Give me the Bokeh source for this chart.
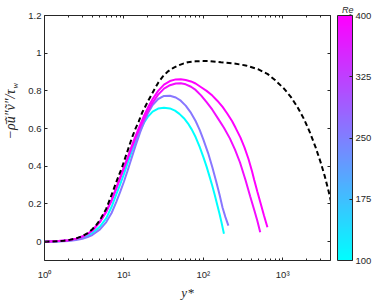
import numpy as np
from bokeh.plotting import figure
from bokeh.models import (LinearAxis, LogAxis, FixedTicker, CustomJSTickFormatter, ColorBar,
                          LinearColorMapper, Label, Range1d, ColumnDataSource,
                          CustomLabelingPolicy)
from bokeh.transform import linear_cmap
from bokeh.embed import file_html
from bokeh.resources import INLINE

# ---------------- data ----------------
re_tau = [100, 260, 385, 400]

ys_re100 = [1, 1.5, 2, 2.5, 3, 3.5, 4, 5, 6, 7, 8, 9, 10, 11, 12, 13, 14, 16, 18, 20, 23, 27, 32, 38, 44, 50,
            57, 64, 72, 80, 90, 100, 110, 120, 130, 140, 150, 160, 170, 182]
uv_re100 = [0.0, 0.002, 0.006, 0.012, 0.02, 0.031, 0.045, 0.08, 0.125, 0.185, 0.25, 0.305, 0.358, 0.41, 0.455,
            0.495, 0.53, 0.59, 0.632, 0.662, 0.69, 0.706, 0.711, 0.707, 0.695, 0.678, 0.655, 0.628, 0.593, 0.555,
            0.503, 0.45, 0.398, 0.345, 0.295, 0.245, 0.195, 0.148, 0.1, 0.042]

ys_re260 = [1, 1.5, 2, 2.5, 3, 3.5, 4, 5, 6, 7, 8, 9, 10, 11, 12, 13, 14, 16, 18, 20, 23, 27, 32, 38, 45, 52,
            60, 70, 80, 90, 100, 115, 130, 145, 160, 175, 190, 207]
uv_re260 = [0.0, 0.001, 0.004, 0.009, 0.015, 0.024, 0.035, 0.065, 0.104, 0.152, 0.21, 0.265, 0.318, 0.37, 0.42,
            0.466, 0.508, 0.58, 0.635, 0.68, 0.725, 0.757, 0.773, 0.774, 0.765, 0.748, 0.722, 0.683, 0.64, 0.593,
            0.543, 0.47, 0.395, 0.32, 0.25, 0.18, 0.13, 0.085]

ys_re385 = [1, 1.5, 2, 2.5, 3, 3.5, 4, 5, 6, 7, 8, 9, 10, 11, 12, 13, 14, 16, 18, 20, 23, 27, 32, 38, 45, 52,
            60, 70, 80, 93.6, 110, 130, 155, 182, 216, 250, 290, 340, 390, 440, 480, 521]
uv_re385 = [0.0, 0.003, 0.008, 0.016, 0.027, 0.041, 0.058, 0.104, 0.158, 0.217, 0.28, 0.337, 0.388, 0.434, 0.476,
            0.514, 0.548, 0.606, 0.653, 0.692, 0.738, 0.78, 0.812, 0.83, 0.839, 0.84, 0.835, 0.822, 0.805, 0.776,
            0.74, 0.7, 0.65, 0.604, 0.548, 0.49, 0.42, 0.327, 0.24, 0.165, 0.11, 0.05]

ys_re400 = [1, 1.5, 2, 2.5, 3, 3.5, 4, 5, 6, 7, 8, 9, 10, 11, 12, 13, 14, 16, 18, 20, 23, 27, 32, 38, 45, 52,
            60, 70, 80, 95, 110, 130, 150, 175, 200, 230, 255, 294, 330, 370, 410, 438, 480, 530, 580, 642]
uv_re400 = [0.0, 0.003, 0.008, 0.016, 0.027, 0.042, 0.06, 0.107, 0.162, 0.222, 0.285, 0.343, 0.395, 0.44, 0.485,
            0.525, 0.56, 0.62, 0.67, 0.71, 0.757, 0.8, 0.833, 0.852, 0.861, 0.862, 0.858, 0.85, 0.839, 0.818,
            0.8, 0.775, 0.748, 0.715, 0.68, 0.64, 0.604, 0.552, 0.5, 0.44, 0.375, 0.327, 0.265, 0.2, 0.14, 0.076]

ys_ref = [1, 1.25, 1.5, 1.75, 2, 2.5, 3, 3.5, 4, 4.5, 5, 6, 7.13, 8, 9.5, 11.5, 12.6, 14, 15.3, 17, 20.4, 24,
          27.2, 31, 36, 42, 48, 56, 64, 80, 100, 120, 167, 240, 342, 488, 649, 807, 1044, 1265, 1531, 1848,
          2200, 2600, 3000, 3400, 3800, 4200]
uv_ref = [0.0, 0.001, 0.003, 0.005, 0.008, 0.017, 0.03, 0.045, 0.066, 0.089, 0.115, 0.175, 0.257, 0.315, 0.396,
          0.5, 0.55, 0.6, 0.635, 0.685, 0.75, 0.805, 0.845, 0.877, 0.904, 0.922, 0.934, 0.945, 0.952, 0.957,
          0.958, 0.958, 0.952, 0.946, 0.935, 0.915, 0.889, 0.856, 0.811, 0.768, 0.715, 0.652, 0.58, 0.5, 0.422,
          0.345, 0.265, 0.185]

x_major = [1, 10, 100, 1000]
y_major = [0, 0.2, 0.4, 0.6, 0.8, 1.0, 1.2]
cb_ticks = [100, 175, 250, 325, 400]

# ---------------- styling ----------------
AX = "#262626"
SANS = "Liberation Sans"
SERIF = "Liberation Serif"
cool = ['#%02x%02xff' % (i, 255 - i) for i in range(256)]
x_minor = [m * 10 ** k for k in range(4) for m in range(2, 10) if m * 10 ** k <= 4000]

p = figure(width=374, height=302, x_axis_type="log",
           x_range=Range1d(1, 4000), y_range=Range1d(-0.1, 1.2),
           output_backend="svg", toolbar_location=None,
           min_border_left=41, min_border_top=15, min_border_bottom=37, min_border_right=43)
p.outline_line_color = None
p.grid.visible = False
p.background_fill_color = "white"

src = ColumnDataSource(dict(
    xs=[ys_re100, ys_re260, ys_re385, ys_re400],
    ys=[uv_re100, uv_re260, uv_re385, uv_re400],
    re=re_tau))
p.multi_line("xs", "ys", source=src, line_width=2,
             line_color=linear_cmap("re", cool, 100, 400))
p.line(ys_ref, uv_ref, line_color="black", line_width=2, line_dash="5 3")

xfmt = CustomJSTickFormatter(code="""
const sup = {'0':'\u2070','1':'\u00b9','2':'\u00b2','3':'\u00b3','4':'\u2074','-':'\u207b'};
const e = Math.round(Math.log10(tick));
return '10' + String(e).split('').map(c => sup[c]).join('');
""")
yfmt = CustomJSTickFormatter(code="return String(Math.round(tick*10)/10);")
no_labels = CustomLabelingPolicy(code="for (const i of Array.from(indices)) { indices.unset(i) } return indices")


def style(ax, labels=True):
    ax.axis_line_color = AX
    ax.major_tick_line_color = AX
    ax.minor_tick_line_color = AX
    ax.major_tick_in = 3
    ax.major_tick_out = 0
    ax.minor_tick_in = 2
    ax.minor_tick_out = 0
    ax.major_label_text_font = SANS
    ax.major_label_text_color = AX
    ax.major_label_text_font_size = "9.5px"
    if not labels:
        ax.major_label_text_font_size = "0px"
        ax.major_label_standoff = 0
        ax.major_label_policy = no_labels


xax = p.xaxis[0]
xax.ticker = FixedTicker(ticks=x_major, minor_ticks=x_minor)
xax.formatter = xfmt
style(xax)
xax.major_label_standoff = 8
xax.axis_label = "y*"
xax.axis_label_text_font = SERIF
xax.axis_label_text_font_style = "italic"
xax.axis_label_text_font_size = "13px"
xax.axis_label_text_color = AX
xax.axis_label_standoff = 2

yax = p.yaxis[0]
yax.ticker = FixedTicker(ticks=y_major)
yax.formatter = yfmt
style(yax)
yax.major_label_standoff = 3

top = LogAxis(ticker=FixedTicker(ticks=x_major, minor_ticks=x_minor), formatter=xfmt)
style(top, labels=False)
p.add_layout(top, "above")

right = LinearAxis(ticker=FixedTicker(ticks=y_major), formatter=yfmt)
style(right, labels=False)
p.add_layout(right, "right")

FB = 265  # frame bottom (labels in side panels measure y upward from here)

# colour-bar title subscript sits in the right panel (its slot is part of the gap before the bar)
p.add_layout(Label(x=18.5, y=FB - 20, x_units="screen", y_units="screen",
                   text="\u03c4", text_align="left", text_baseline="alphabetic",
                   text_font=SERIF, text_font_style="italic", text_font_size="7.5px",
                   text_color=AX), "right")

# invisible spacer between frame and colour bar
spacer = LinearAxis(ticker=FixedTicker(ticks=[0.5]), formatter=yfmt)
style(spacer, labels=False)
spacer.axis_line_color = None
spacer.major_tick_in = 0
spacer.major_tick_out = 4
spacer.major_tick_line_color = "white"
p.add_layout(spacer, "right")

mapper = LinearColorMapper(palette=cool, low=100, high=400)
cb = ColorBar(color_mapper=mapper, ticker=FixedTicker(ticks=cb_ticks), width=15,
              padding=0, margin=0, label_standoff=3,
              major_label_text_font=SANS, major_label_text_font_size="9.5px",
              major_label_text_color=AX,
              major_tick_in=3, major_tick_out=0, major_tick_line_color=AX,
              minor_tick_line_color=None,
              bar_line_color=AX, border_line_color=None, background_fill_color=None)
p.add_layout(cb, "right")

# y-axis label and its subscript in the left panel
p.add_layout(Label(x=0, y=FB - 94, x_units="screen", y_units="screen",
                   text="\u2212\u03c1\u0304u\u0303\u2033v\u0303\u2033/\u03c4", angle=np.pi / 2,
                   text_align="right", text_baseline="alphabetic",
                   text_font=SERIF, text_font_style="italic", text_font_size="14px",
                   text_color=AX), "left")
p.add_layout(Label(x=14, y=FB - 93, x_units="screen", y_units="screen",
                   text="w", angle=np.pi / 2,
                   text_align="left", text_baseline="alphabetic",
                   text_font=SERIF, text_font_style="italic", text_font_size="8.5px",
                   text_color=AX), "left")

# colour-bar title in the above panel
p.add_layout(Label(x=297.5, y=6, x_units="screen", y_units="screen",
                   text="Re", text_align="left", text_baseline="alphabetic",
                   text_font=SANS, text_font_style="italic", text_font_size="9px",
                   text_color=AX), "above")

open("out.html", "w").write(file_html(p, INLINE))
